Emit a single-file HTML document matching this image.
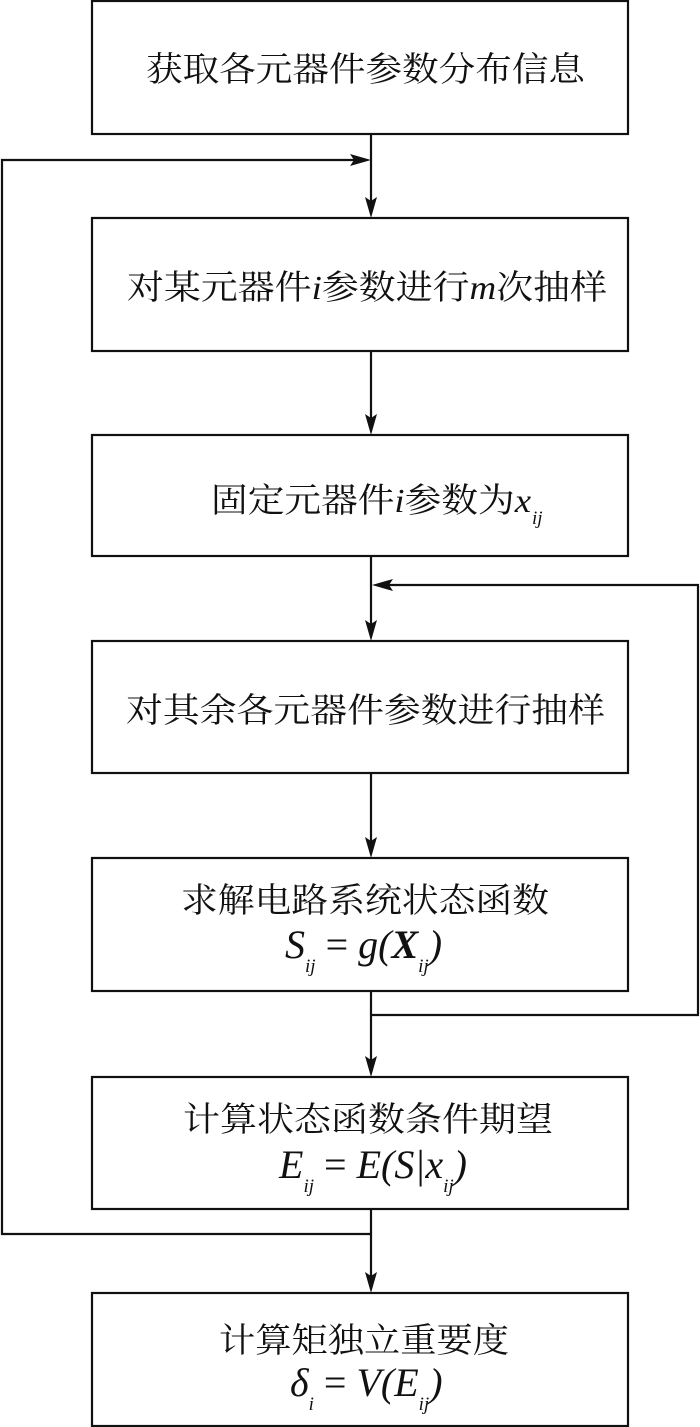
<!DOCTYPE html>
<html><head><meta charset="utf-8"><style>
html,body{margin:0;padding:0;background:#fff;}
svg{display:block;}
.c{font-family:"Liberation Serif","Noto Serif CJK SC","Noto Sans CJK SC",serif;font-size:34px;fill:#111;}
.m{font-family:"Liberation Serif",serif;font-style:italic;font-size:40px;fill:#111;}
.s{font-size:19px;}
</style></head><body>
<svg width="700" height="1427" viewBox="0 0 700 1427" xmlns="http://www.w3.org/2000/svg">
<g fill="none" stroke="#111" stroke-width="2.2">
<rect x="92" y="1" width="536" height="133"/>
<rect x="92" y="218" width="536" height="133"/>
<rect x="92" y="435" width="536" height="121"/>
<rect x="92" y="641" width="536" height="132"/>
<rect x="92" y="858" width="536" height="133"/>
<rect x="92" y="1077" width="536" height="132"/>
<rect x="92" y="1293" width="536" height="133"/>
<line x1="371" y1="134" x2="371" y2="210"/>
<line x1="371" y1="351" x2="371" y2="427"/>
<line x1="371" y1="556" x2="371" y2="633"/>
<line x1="371" y1="773" x2="371" y2="850"/>
<line x1="371" y1="991" x2="371" y2="1069"/>
<line x1="371" y1="1209" x2="371" y2="1285"/>
<polyline points="371,1234 2,1234 2,160 362,160"/>
<polyline points="371,1015 698,1015 698,585 380,585"/>
</g>
<g fill="#111">
<polygon points="371,218 365,197 371,201 377,197"/>
<polygon points="371,435 365,414 371,418 377,414"/>
<polygon points="371,641 365,620 371,624 377,620"/>
<polygon points="371,858 365,837 371,841 377,837"/>
<polygon points="371,1077 365,1056 371,1060 377,1056"/>
<polygon points="371,1293 365,1272 371,1276 377,1272"/>
<polygon points="371,160 350,154 354,160 350,166"/>
<polygon points="372,585 393,579 389,585 393,591"/>
</g>
<text class="c" x="146" y="81" textLength="439" lengthAdjust="spacingAndGlyphs">获取各元器件参数分布信息</text>
<text class="c" x="127" y="299" textLength="480" lengthAdjust="spacingAndGlyphs">对某元器件<tspan font-style="italic">i</tspan>参数进行<tspan font-style="italic">m</tspan>次抽样</text>
<text class="c" x="211" y="512" textLength="320" lengthAdjust="spacingAndGlyphs">固定元器件<tspan font-style="italic">i</tspan>参数为<tspan font-style="italic">x</tspan></text>
<text class="m s" x="532" y="524">ij</text>
<text class="c" x="126" y="722" textLength="479" lengthAdjust="spacingAndGlyphs">对其余各元器件参数进行抽样</text>
<text class="c" x="181" y="912" textLength="368" lengthAdjust="spacingAndGlyphs">求解电路系统状态函数</text>
<text class="m" x="285" y="958">S<tspan class="s" dy="14">ij</tspan><tspan dy="-14" font-style="normal"> = </tspan>g(<tspan font-weight="bold">X</tspan><tspan class="s" dy="14">ij</tspan><tspan dy="-14">)</tspan></text>
<text class="c" x="183" y="1131" textLength="370" lengthAdjust="spacingAndGlyphs">计算状态函数条件期望</text>
<text class="m" x="279" y="1178">E<tspan class="s" dy="14">ij</tspan><tspan dy="-14" font-style="normal"> = </tspan>E(S|x<tspan class="s" dy="14">ij</tspan><tspan dy="-14">)</tspan></text>
<text class="c" x="219" y="1352" textLength="290" lengthAdjust="spacingAndGlyphs">计算矩独立重要度</text>
<text class="m" x="290" y="1396">δ<tspan class="s" dy="14">i</tspan><tspan dy="-14" font-style="normal"> = </tspan>V(E<tspan class="s" dy="14">ij</tspan><tspan dy="-14">)</tspan></text>
</svg>
</body></html>
